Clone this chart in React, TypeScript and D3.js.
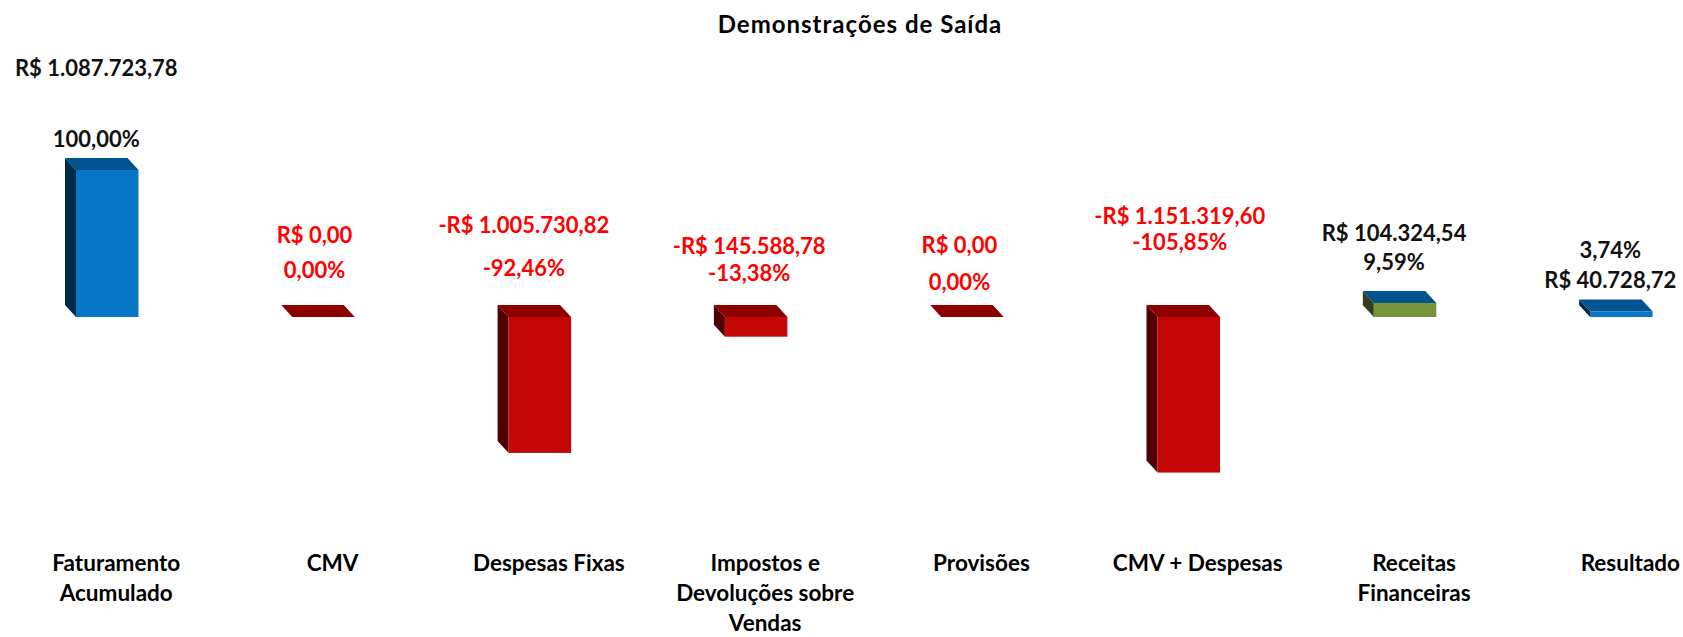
import React from "react";
import * as d3 from "d3";

const categories = [
  "Faturamento Acumulado",
  "CMV",
  "Despesas Fixas",
  "Impostos e Devoluções sobre Vendas",
  "Provisões",
  "CMV + Despesas",
  "Receitas Financeiras",
  "Resultado",
];
const categoryLines = [
  ["Faturamento", "Acumulado"],
  ["CMV"],
  ["Despesas Fixas"],
  ["Impostos e", "Devoluções sobre", "Vendas"],
  ["Provisões"],
  ["CMV + Despesas"],
  ["Receitas", "Financeiras"],
  ["Resultado"],
];
const values = [1087723.78, 0, -1005730.82, -145588.78, 0, -1151319.6, 104324.54, 40728.72];
const valueLabels = [
  "R$ 1.087.723,78",
  "R$ 0,00",
  "-R$ 1.005.730,82",
  "-R$ 145.588,78",
  "R$ 0,00",
  "-R$ 1.151.319,60",
  "R$ 104.324,54",
  "R$ 40.728,72",
];
const percentLabels = ["100,00%", "0,00%", "-92,46%", "-13,38%", "0,00%", "-105,85%", "9,59%", "3,74%"];
const title = "Demonstrações de Saída";

// layout (not data): label offsets relative to the bar (dx, first line dy, second line dy, percent first?)
const labelLayout: [number, number, number, boolean][] = [
  [-11, -94, -23, false],
  [-9, -74, -39, false],
  [-16, -84, -41, false],
  [-7, -63, -36, false],
  [-13, -64, -27, false],
  [-9, -93, -67, false],
  [-11, -62, -33, false],
  [-11, -53, -23, true],
];

type Pal = { front: string; top: string; side: string; text: string };
const bluePal: Pal = { front: "#0675C6", top: "#005492", side: "#002A4A", text: "#111111" };
const redPal: Pal = { front: "#C30606", top: "#8E0000", side: "#4F0000", text: "#FF0000" };
const greenPal: Pal = { front: "#77933C", top: "#00538F", side: "#333F1A", text: "#111111" };
const palettes = [bluePal, redPal, redPal, redPal, redPal, redPal, greenPal, bluePal];

const W = 1683;
const H = 637;
const FONT = "Lato, 'Open Sans', sans-serif";

export default function App() {
  const x = d3.scaleBand<string>().domain(categories).range([-0.9, -0.9 + 216.3 * categories.length]).padding(0);
  const y = d3.scaleLinear().domain([-1500000, 1500000]).range([519.7, 114.3]);
  const barW = 62.5;
  const dx = -11;
  const dy = -12;

  return (
    <svg
      width={W}
      height={H}
      style={{ position: "absolute", left: 0, top: 0, background: "#fff" }}
      fontFamily={FONT}
    >
      <rect width={W} height={H} fill="#fff" />
      <text x={860} y={33} textAnchor="middle" fontSize={24} fontWeight={700} letterSpacing={1} fill="#000">
        {title}
      </text>
      {categories.map((c, i) => {
        const v = values[i];
        const pal = palettes[i];
        const xf = (x(c) as number) + (x.bandwidth() - barW) / 2;
        const yTop = Math.min(y(v), y(0));
        const yBot = Math.max(y(v), y(0));
        const h = yBot - yTop;
        const side = [
          [xf, yTop],
          [xf + dx, yTop + dy],
          [xf + dx, yBot + dy],
          [xf, yBot],
        ];
        const top = [
          [xf, yTop],
          [xf + dx, yTop + dy],
          [xf + barW + dx, yTop + dy],
          [xf + barW, yTop],
        ];
        const line = d3.line();
        const [ldx, l1, l2, pctFirst] = labelLayout[i];
        const cx = xf + barW / 2 + ldx;
        const first = pctFirst ? percentLabels[i] : valueLabels[i];
        const second = pctFirst ? valueLabels[i] : percentLabels[i];
        const lx = (x(c) as number) + x.bandwidth() / 2 + 9;
        return (
          <g key={c}>
            {h > 0 && <path d={line(side as [number, number][]) + "Z"} fill={pal.side} />}
            <path d={line(top as [number, number][]) + "Z"} fill={pal.top} />
            {h > 0 && <rect x={xf} y={yTop} width={barW} height={h} fill={pal.front} />}
            <text x={cx} y={yTop + l1} textAnchor="middle" fontSize={22} fontWeight={700} fill={pal.text}>
              {first}
            </text>
            <text x={cx} y={yTop + l2} textAnchor="middle" fontSize={22} fontWeight={700} fill={pal.text}>
              {second}
            </text>
            {categoryLines[i].map((t, k) => (
              <text
                key={k}
                x={lx}
                y={571 + k * 30}
                textAnchor="middle"
                fontSize={22.5}
                fontWeight={700}
                fill="#000"
              >
                {t}
              </text>
            ))}
          </g>
        );
      })}
    </svg>
  );
}
